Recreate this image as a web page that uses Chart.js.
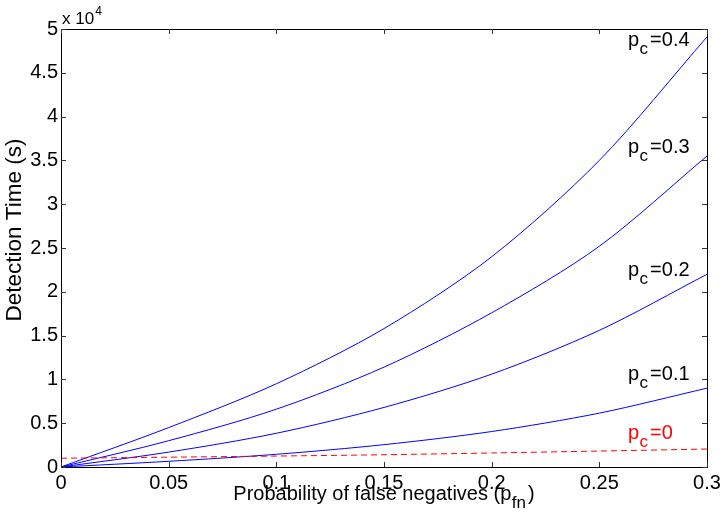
<!DOCTYPE html>
<html>
<head>
<meta charset="utf-8">
<script src="https://cdn.jsdelivr.net/npm/chart.js@4"></script>
<style>
  html, body { margin: 0; padding: 0; background: #fff; }
  #wrap { width: 721px; height: 516px; }
</style>
</head>
<body>
<div id="wrap"><canvas id="chart" width="721" height="516"></canvas></div>
<script>
// probability of false negatives
const pfn = [0, 0.05, 0.1, 0.15, 0.2, 0.25, 0.3];

// detection time in units of 10^4 s, one list per p_c
const timePc0 = [0.1, 0.112, 0.125, 0.14, 0.16, 0.182, 0.205];
const timePc01 = [0, 0.065, 0.145, 0.255, 0.405, 0.615, 0.9];
const timePc02 = [0, 0.17, 0.385, 0.68, 1.06, 1.56, 2.2];
const timePc03 = [0, 0.3, 0.66, 1.14, 1.76, 2.52, 3.55];
const timePc04 = [0, 0.45, 0.95, 1.58, 2.4, 3.5, 4.91];

const curveNames = ["0", "0.1", "0.2", "0.3", "0.4"];
const xTicks = [0, 0.05, 0.1, 0.15, 0.2, 0.25, 0.3];
const yTicks = [0, 0.5, 1, 1.5, 2, 2.5, 3, 3.5, 4, 4.5, 5];

const FONT = '"Liberation Sans", Arial, Helvetica, sans-serif';

function toPoints(ys) {
  return pfn.map((x, i) => ({ x: x, y: ys[i] }));
}

function blueLine(ys) {
  return {
    data: toPoints(ys),
    borderColor: "#0000ff",
    borderWidth: 1,
    pointRadius: 0,
    tension: 0.3,
  };
}

// text with one subscript piece in the middle
function drawSub(ctx, x, y, before, sub, after, size, color) {
  ctx.save();
  ctx.fillStyle = color;
  ctx.textBaseline = "alphabetic";
  ctx.textAlign = "left";
  ctx.font = size + "px " + FONT;
  ctx.fillText(before, x, y);
  x += ctx.measureText(before).width + 0.5;
  ctx.font = Math.round(size * 0.85) + "px " + FONT;
  ctx.fillText(sub, x, y + 8);
  x += ctx.measureText(sub).width + 2;
  ctx.font = size + "px " + FONT;
  ctx.fillText(after, x, y);
  ctx.restore();
}

function subWidth(ctx, before, sub, after, size) {
  ctx.font = size + "px " + FONT;
  let w = ctx.measureText(before).width + ctx.measureText(after).width + 2.5;
  ctx.font = Math.round(size * 0.85) + "px " + FONT;
  return w + ctx.measureText(sub).width;
}

const framePlugin = {
  id: "frame",
  afterDraw(chart) {
    const { ctx, chartArea: a, scales } = chart;
    ctx.save();
    ctx.strokeStyle = "#000";
    ctx.lineWidth = 1;
    ctx.strokeRect(a.left + 0.5, a.top + 0.5, a.right - a.left, a.bottom - a.top);
    ctx.strokeStyle = "#333";
    ctx.beginPath();
    xTicks.forEach((v) => {
      const px = Math.round(scales.x.getPixelForValue(v)) + 0.5;
      ctx.moveTo(px, a.bottom);
      ctx.lineTo(px, a.bottom - 5);
      ctx.moveTo(px, a.top);
      ctx.lineTo(px, a.top + 5);
    });
    yTicks.forEach((v) => {
      const py = Math.round(scales.y.getPixelForValue(v)) + 0.5;
      ctx.moveTo(a.left, py);
      ctx.lineTo(a.left + 5, py);
      ctx.moveTo(a.right, py);
      ctx.lineTo(a.right - 5, py);
    });
    ctx.stroke();

    // exponent above the y axis
    ctx.fillStyle = "#000";
    ctx.textBaseline = "alphabetic";
    ctx.font = "17px " + FONT;
    ctx.fillText("x 10", a.left + 1, 24);
    const w = ctx.measureText("x 10").width;
    ctx.font = "12px " + FONT;
    ctx.fillText("4", a.left + w + 2, 15);

    // curve labels, placed in data units
    const lx = scales.x.getPixelForValue(0.2633);
    const labelY = [0.32, 0.99, 2.18, 3.58, 4.81];
    curveNames.forEach((name, i) => {
      const ly = scales.y.getPixelForValue(labelY[i]);
      drawSub(ctx, lx, ly, "p", "c", "=" + name, 20, i === 0 ? "#ff0000" : "#000");
    });

    // x axis title with subscript
    const t1 = "Probability of false negatives (p";
    const tw = subWidth(ctx, t1, "fn", ")", 20);
    const cx = (a.left + a.right) / 2;
    drawSub(ctx, cx - tw / 2, 500, t1, "fn", ")", 20, "#000");

    // y axis title
    ctx.save();
    ctx.translate(21, (a.top + a.bottom) / 2 - 18);
    ctx.rotate(-Math.PI / 2);
    ctx.textAlign = "center";
    ctx.textBaseline = "alphabetic";
    ctx.fillStyle = "#000";
    ctx.font = "22.5px " + FONT;
    ctx.fillText("Detection Time (s)", 0, 0);
    ctx.restore();
    ctx.restore();
  },
};

new Chart(document.getElementById("chart"), {
  type: "line",
  data: {
    datasets: [
      {
        data: toPoints(timePc0),
        borderColor: "#ff0000",
        borderWidth: 1,
        borderDash: [6, 4],
        pointRadius: 0,
        tension: 0.3,
      },
      blueLine(timePc01),
      blueLine(timePc02),
      blueLine(timePc03),
      blueLine(timePc04),
    ],
  },
  options: {
    responsive: false,
    animation: false,
    layout: { padding: { left: 0, top: 29, right: 14, bottom: 0 } },
    plugins: { legend: { display: false }, tooltip: { enabled: false } },
    scales: {
      x: {
        type: "linear",
        min: 0,
        max: 0.3,
        grid: { display: false, drawTicks: false },
        border: { display: false },
        afterBuildTicks: (s) => { s.ticks = xTicks.map((v) => ({ value: v })); },
        afterFit: (s) => { s.height = 49; s.paddingLeft = 0; s.paddingRight = 0; },
        ticks: {
          padding: 4,
          color: "#000",
          font: { family: FONT, size: 20 },
          maxRotation: 0,
          callback: (v) => String(Math.round(v * 100) / 100),
        },
      },
      y: {
        min: 0,
        max: 5,
        grid: { display: false, drawTicks: false },
        border: { display: false },
        afterBuildTicks: (s) => { s.ticks = yTicks.map((v) => ({ value: v })); },
        afterFit: (s) => { s.width = 61; s.paddingTop = 0; s.paddingBottom = 0; },
        ticks: {
          padding: 3,
          color: "#000",
          font: { family: FONT, size: 20 },
          callback: (v) => String(v),
        },
      },
    },
  },
  plugins: [framePlugin],
});
</script>
</body>
</html>
